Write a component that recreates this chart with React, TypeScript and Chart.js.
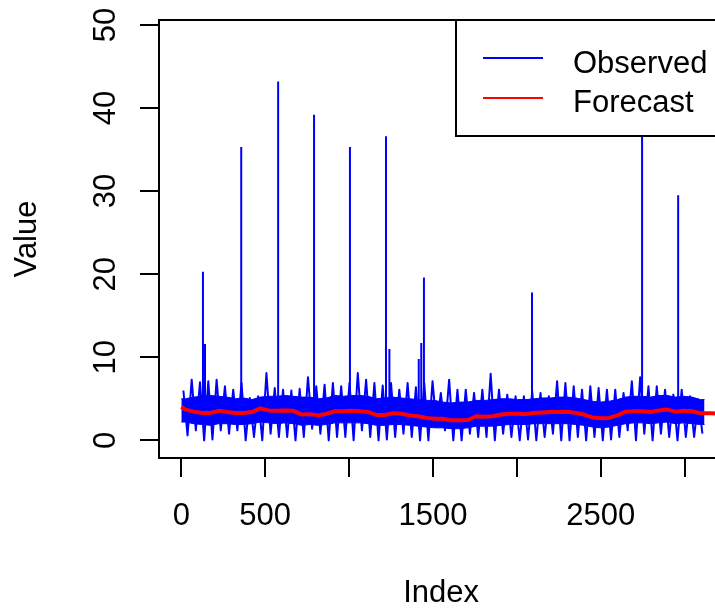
import React, { useEffect, useRef } from "react";
import { Chart, registerables } from "chart.js";

Chart.register(...registerables);

// ---------- axis ticks ----------
const xTickValues = [0, 500, 1000, 1500, 2000, 2500, 3000];
const xTickLabels = ["0", "500", "", "1500", "", "2500", ""];
const yTickValues = [0, 10, 20, 30, 40, 50];
const yTickLabels = ["0", "10", "20", "30", "40", "50"];

// ---------- observed series (63 bins over index 0..3118) ----------
const OBS_LAST_INDEX = 3118;
// highest excursion in each bin (spikes listed separately)
const obsHigh = [
  6.0, 7.3, 7.0, 7.1, 7.3, 6.5, 6.1, 6.9, 5.1, 5.3, 8.1, 6.3, 6.1, 6.0, 6.2,
  7.6, 6.5, 6.7, 6.9, 6.5, 6.9, 8.1, 7.3, 6.9, 6.6, 6.9, 6.1, 6.9, 6.4, 6.9,
  7.1, 5.7, 7.3, 6.1, 6.1, 5.7, 6.1, 8.0, 6.1, 5.5, 5.3, 5.3, 5.9, 5.7, 5.3, 7.1,
  6.9, 6.5, 6.1, 6.5, 6.3, 6.1, 6.1, 5.7, 7.1, 7.6, 6.5, 6.5, 6.1, 5.5, 6.1, 5.3, 4.9,
];
// lowest excursion in each bin
const obsLow = [
  0.6, 1.2, 0.0, 0.1, 1.2, 0.8, 1.2, 0.0, 0.4, 0.0, 0.8, 0.4, 0.4, 0.0, 0.4,
  1.4, 0.8, 0.0, 0.4, 0.4, 0.0, 1.2, 0.4, 0.0, 0.1, 0.4, 0.8, 0.4, 0.0, 0.0,
  1.6, 1.2, 0.0, 0.0, 0.8, 0.4, 0.4, 0.0, 0.8, 0.4, 0.0, 0.1, 0.0, 0.4, 0.8, 0.0,
  0.0, 0.4, 0.0, 0.4, 0.0, 0.1, 0.4, 1.2, 0.0, 0.8, 0.0, 0.8, 0.4, 0.0, 0.4, 0.4, 0.8,
];
// dense core of the band (upper / lower edge)
const obsCoreHigh = [
  5.0, 5.2, 5.3, 5.4, 5.3, 5.2, 5.0, 5.1, 4.9, 5.2, 5.3, 5.3, 5.4, 5.3, 5.2,
  5.2, 5.0, 5.1, 5.4, 5.3, 5.4, 5.4, 5.3, 5.0, 5.1, 5.2, 5.1, 5.0, 4.9, 4.8,
  4.8, 4.6, 4.5, 4.6, 4.6, 4.8, 4.8, 4.9, 5.0, 5.0, 4.9, 4.9, 5.0, 5.1, 5.1, 5.2,
  5.2, 5.1, 4.9, 4.7, 4.6, 4.7, 4.9, 5.2, 5.3, 5.3, 5.2, 5.4, 5.4, 5.2, 5.3, 5.2, 4.9,
];
const obsCoreLow = [
  2.2, 2.0, 1.9, 1.8, 2.0, 2.0, 1.9, 1.9, 2.0, 2.2, 2.1, 2.0, 2.1, 2.0, 1.8,
  1.9, 1.8, 1.9, 2.1, 2.1, 2.1, 2.1, 2.0, 1.8, 1.8, 1.9, 1.9, 1.8, 1.7, 1.6,
  1.5, 1.5, 1.4, 1.4, 1.5, 1.7, 1.7, 1.7, 1.8, 1.9, 1.9, 1.9, 2.0, 2.0, 2.0, 2.0,
  2.0, 1.9, 1.8, 1.6, 1.5, 1.6, 1.8, 2.0, 2.1, 2.1, 2.0, 2.1, 2.2, 2.0, 2.1, 2.0, 1.9,
];
// isolated spikes
const spikeIndex = [129, 141, 357, 577, 791, 1005, 1220, 1240, 1415, 1430, 1446, 2090, 2746, 2961];
const spikeValue = [20.3, 11.6, 35.3, 43.2, 39.2, 35.3, 36.6, 11.0, 9.8, 11.7, 19.6, 17.8, 48.7, 29.5];
const SPIKE_BASE = 3.0;

// ---------- forecast series ----------
const forecastStart = 4.0; // at index 0
const forecastValues = [
  3.7, 3.45, 3.3, 3.3, 3.55, 3.4, 3.3, 3.3, 3.4, 3.85, 3.6, 3.55, 3.6, 3.55, 3.1,
  3.15, 3.0, 3.2, 3.5, 3.5, 3.55, 3.5, 3.4, 3.05, 3.05, 3.25, 3.2, 3.0, 2.9, 2.7,
  2.6, 2.6, 2.4, 2.4, 2.45, 2.9, 2.85, 2.9, 3.1, 3.2, 3.2, 3.15, 3.3, 3.35, 3.4, 3.4,
  3.45, 3.3, 3.1, 2.75, 2.65, 2.7, 3.0, 3.45, 3.5, 3.5, 3.4, 3.6, 3.7, 3.45, 3.55, 3.5, 3.25,
];
const forecastAheadIndex = [3160, 3210, 3260];
const forecastAheadValues = [3.25, 3.2, 3.2];

// ---------- layout / style ----------
const FONT = "'Liberation Sans', Arial, Helvetica, sans-serif";
const CANVAS_W = 740;
const CANVAS_H = 612;
const BLUE = "#0000ff";
const RED = "#ff0000";

const rDecorPlugin = {
  id: "rDecor",
  afterDraw(chart: any) {
    const { ctx, chartArea: a } = chart;
    ctx.save();
    ctx.strokeStyle = "#000";
    ctx.lineWidth = 2;
    ctx.strokeRect(a.left, a.top, a.right - a.left, a.bottom - a.top);
    // legend box (top-right)
    const lx = 456, ly = a.top, lr = a.right, lb = 136;
    ctx.fillStyle = "#fff";
    ctx.fillRect(lx, ly, lr - lx, lb - ly);
    ctx.strokeRect(lx, ly, lr - lx, lb - ly);
    const items = [
      { label: "Observed", color: BLUE, y: 58, base: 73 },
      { label: "Forecast", color: RED, y: 98, base: 112 },
    ];
    ctx.font = `31px ${FONT}`;
    ctx.textAlign = "left";
    ctx.textBaseline = "alphabetic";
    for (const it of items) {
      ctx.strokeStyle = it.color;
      ctx.lineWidth = 2;
      ctx.beginPath();
      ctx.moveTo(483, it.y);
      ctx.lineTo(543, it.y);
      ctx.stroke();
      ctx.fillStyle = "#000";
      ctx.fillText(it.label, 573, it.base);
    }
    ctx.restore();
  },
};

export default function App() {
  const ref = useRef<HTMLCanvasElement>(null);

  useEffect(() => {
    if (!ref.current) return;
    const n = obsHigh.length;
    const w = OBS_LAST_INDEX / n;
    const mid = (k: number) => k * w + 0.5 * w;

    const zig: { x: number; y: number }[] = [];
    obsHigh.forEach((hi, k) => {
      zig.push({ x: k * w + 0.25 * w, y: hi });
      zig.push({ x: k * w + 0.75 * w, y: obsLow[k] });
    });

    const band = (arr: number[]) => [
      { x: 0, y: arr[0] },
      ...arr.map((v, k) => ({ x: mid(k), y: v })),
      { x: OBS_LAST_INDEX, y: arr[arr.length - 1] },
    ];

    const spikes: { x: number; y: number | null }[] = [];
    spikeIndex.forEach((i, j) => {
      spikes.push({ x: i, y: SPIKE_BASE });
      spikes.push({ x: i, y: spikeValue[j] });
      spikes.push({ x: i + 0.5, y: null });
    });

    const forecast = [
      { x: 0, y: forecastStart },
      ...forecastValues.map((v, k) => ({ x: mid(k), y: v })),
      ...forecastAheadValues.map((v, j) => ({ x: forecastAheadIndex[j], y: v })),
    ];

    const tickFont = { family: FONT, size: 31 };

    const chart = new Chart(ref.current, {
      type: "line",
      data: {
        datasets: [
          { label: "Forecast", data: forecast, borderColor: RED, borderWidth: 4, pointRadius: 0, order: 0, borderJoinStyle: "round" },
          { label: "Spikes", data: spikes, borderColor: BLUE, borderWidth: 2, pointRadius: 0, spanGaps: false, order: 1 },
          { label: "Observed", data: zig, borderColor: BLUE, borderWidth: 2, pointRadius: 0, order: 2, borderJoinStyle: "round" },
          { label: "coreHigh", data: band(obsCoreHigh), borderColor: BLUE, backgroundColor: BLUE, borderWidth: 1, pointRadius: 0, fill: "+1", order: 3 },
          { label: "coreLow", data: band(obsCoreLow), borderColor: BLUE, borderWidth: 1, pointRadius: 0, fill: false, order: 4 },
        ] as any,
      },
      options: {
        responsive: false,
        animation: false,
        devicePixelRatio: 1,
        layout: { padding: { left: 0, top: 20, right: CANVAS_W - 723.3, bottom: 0 } },
        plugins: { legend: { display: false }, tooltip: { enabled: false } },
        elements: { line: { tension: 0 } },
        scales: {
          x: {
            type: "linear",
            min: -133,
            max: 3230,
            afterBuildTicks: (s: any) => {
              s.ticks = xTickValues.map((v) => ({ value: v }));
            },
            afterFit: (s: any) => {
              s.height = CANVAS_H - 458;
              s.paddingLeft = 0;
              s.paddingRight = 0;
            },
            grid: { display: true, drawOnChartArea: false, drawTicks: true, tickLength: 19, color: "#000", lineWidth: 2 },
            border: { display: false },
            ticks: {
              autoSkip: false,
              maxRotation: 0,
              minRotation: 0,
              padding: 20.7,
              color: "#000",
              font: tickFont,
              callback: (_v: any, i: number) => xTickLabels[i],
            },
            title: { display: true, text: "Index", color: "#000", font: { family: FONT, size: 31 }, padding: { top: 0, bottom: 0 } },
          },
          y: {
            type: "linear",
            min: -2.13,
            max: 50.6,
            afterBuildTicks: (s: any) => {
              s.ticks = yTickValues.map((v) => ({ value: v }));
            },
            afterFit: (s: any) => {
              s.width = 159;
              s.paddingTop = 0;
              s.paddingBottom = 0;
            },
            grid: { display: true, drawOnChartArea: false, drawTicks: true, tickLength: 19, color: "#000", lineWidth: 2 },
            border: { display: false },
            ticks: {
              autoSkip: false,
              minRotation: 90,
              maxRotation: 90,
              crossAlign: "center",
              padding: 16.8,
              color: "#000",
              font: tickFont,
              callback: (_v: any, i: number) => yTickLabels[i],
            },
            title: { display: true, text: "Value", color: "#000", font: { family: FONT, size: 31 }, padding: { top: 8.7, bottom: 0 } },
          },
        },
      } as any,
      plugins: [rDecorPlugin],
    });
    return () => chart.destroy();
  }, []);

  return (
    <div style={{ position: "fixed", left: 0, top: 0, width: 715, height: 612, overflow: "hidden", background: "#fff" }}>
      <canvas ref={ref} width={CANVAS_W} height={CANVAS_H} style={{ display: "block", width: CANVAS_W, height: CANVAS_H }} />
    </div>
  );
}
